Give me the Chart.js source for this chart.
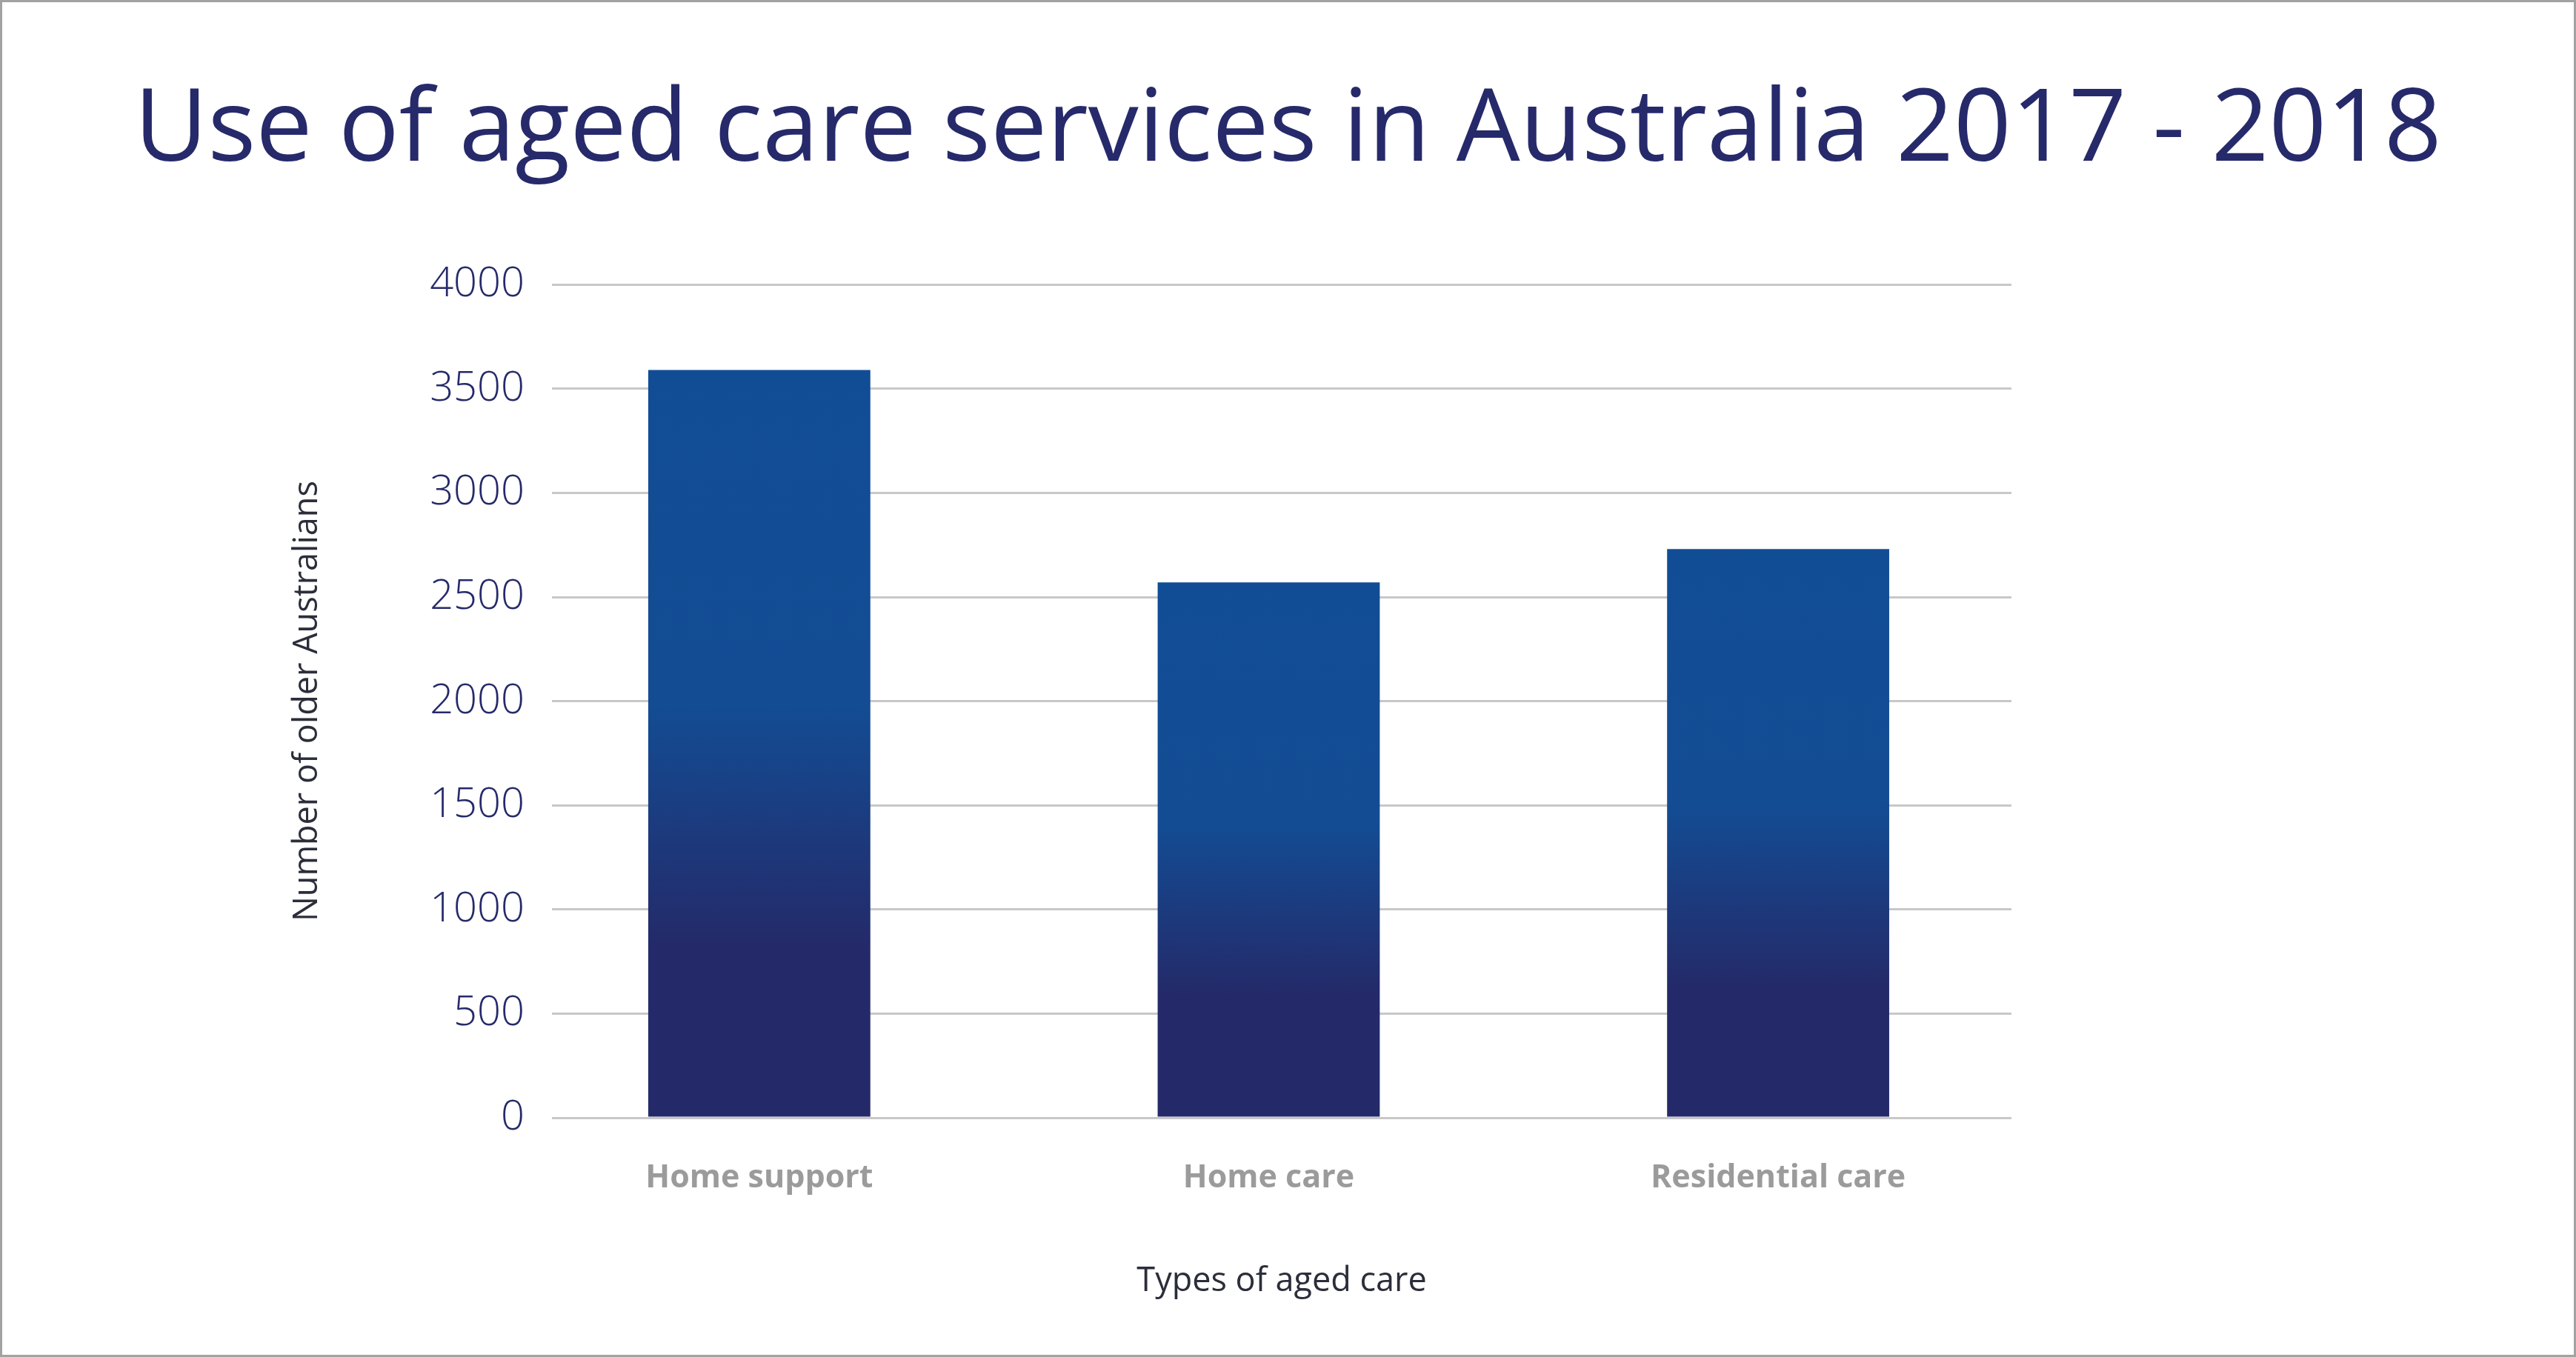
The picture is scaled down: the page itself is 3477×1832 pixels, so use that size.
<!DOCTYPE html>
<html>
<head>
<meta charset="utf-8">
<title>Use of aged care services in Australia 2017 - 2018</title>
<script src="https://cdn.jsdelivr.net/npm/chart.js@4.4.1/dist/chart.umd.min.js"></script>
<style>
  html, body { margin: 0; padding: 0; background: #fff; }
  #frame {
    width: 3471px;
    height: 1826px;
    border: 3px solid #a2a2a2;
    position: relative;
  }
</style>
</head>
<body>
<div id="frame"><canvas id="agedCareChart"></canvas></div>
<script>
// --- chart data ---
const categories = ['Home support', 'Home care', 'Residential care'];
const olderAustralians = [3590, 2570, 2730];
const yTicks = [0, 500, 1000, 1500, 2000, 2500, 3000, 3500, 4000];
// --- end data ---

const NAVY = '#242a69';
const BLUE = '#114d95';

Chart.defaults.font.family = "'Open Sans', 'Noto Sans', sans-serif";

// each bar fades from blue (top) to navy (bottom)
function barGradient(ctx) {
    const chart = ctx.chart;
    if (!chart.chartArea || !ctx.parsed) return NAVY;
    const yScale = chart.scales.y;
    const top = yScale.getPixelForValue(ctx.parsed.y);
    const bottom = yScale.getPixelForValue(0);
    const g = chart.ctx.createLinearGradient(0, top, 0, bottom);
    g.addColorStop(0, BLUE);
    g.addColorStop(0.45, '#134c93');
    g.addColorStop(0.77, NAVY);
    g.addColorStop(1, NAVY);
    return g;
}

const ctx = document.getElementById('agedCareChart').getContext('2d');
new Chart(ctx, {
    type: 'bar',
    data: {
        datasets: [{
            label: 'Number of older Australians',
            data: categories.map((c, i) => ({ x: i, y: olderAustralians[i] })),
            yAxisID: 'y',
            backgroundColor: barGradient,
            borderWidth: 0,
            categoryPercentage: 1,
            barPercentage: 0.436
        }]
    },
    options: {
        responsive: true,
        maintainAspectRatio: false,
        animation: false,
        layout: { padding: { left: 0, right: 0, top: 0, bottom: 72 } },
        plugins: {
            legend: { display: false },
            tooltip: { enabled: false },
            title: {
                display: true,
                text: 'Use of aged care services in Australia 2017 - 2018',
                color: '#262a6a',
                font: { size: 136, weight: '500', lineHeight: 1.2 },
                padding: { top: 94, bottom: 124 }
            }
        },
        scales: {
            x: {
                type: 'linear',
                min: -0.407,
                max: 2.458,
                offset: false,
                afterFit: s => { s.height = 248; },
                grid: { display: false, drawTicks: false },
                border: { display: false },
                ticks: {
                    stepSize: 1,
                    includeBounds: false,
                    autoSkip: false,
                    maxRotation: 0,
                    padding: 56,
                    color: '#9b9b9b',
                    font: { size: 43, weight: 'bold' },
                    callback: v => categories[v] ?? ''
                },
                title: {
                    display: true,
                    text: 'Types of aged care',
                    color: '#2b2e3a',
                    font: { size: 45 },
                    padding: { top: 92, bottom: 0 }
                }
            },
            y: {
                min: 0,
                max: 4000,
                afterFit: s => { s.width = 742; },
                afterBuildTicks: s => { s.ticks = yTicks.map(v => ({ value: v })); },
                grid: { color: '#c8c8c8', lineWidth: 3, drawTicks: false },
                border: { display: false },
                ticks: {
                    padding: 37,
                    color: '#262a6a',
                    font: { size: 56, weight: '300' },
                    callback: v => String(v)
                },
                title: {
                    display: true,
                    text: 'Number of older Australians',
                    color: '#2b2e3a',
                    font: { size: 45 },
                    padding: { top: 385, bottom: 0 }
                }
            },
            // empty right-hand axis, only reserves the white margin beside the plot
            yRight: {
                type: 'linear',
                position: 'right',
                afterFit: s => { s.width = 759; },
                grid: { display: false, drawTicks: false },
                border: { display: false },
                ticks: { display: false }
            }
        }
    }
});
</script>
</body>
</html>
